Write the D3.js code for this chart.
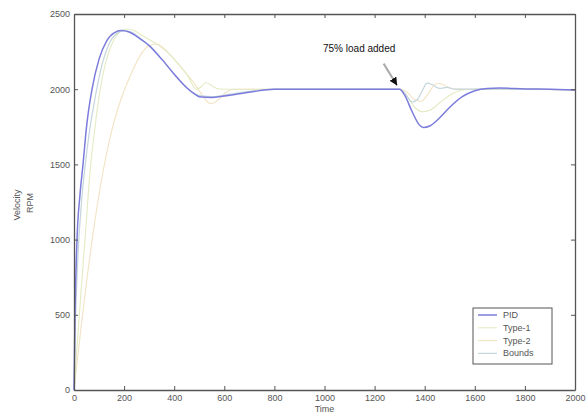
<!DOCTYPE html>
<html lang="en">
<head>
  <meta charset="UTF-8">
  <script src="https://cdn.jsdelivr.net/npm/d3@7"></script>
  <title>Velocity response</title>
  <style>
    body { margin: 0; background: #fff; }
    text { font-family: "Liberation Sans", Arial, sans-serif; }
  </style>
</head>
<body>
<div id="chart"></div>
<script>
// time axis ticks / value ticks
var xTicks = [0, 200, 400, 600, 800, 1000, 1200, 1400, 1600, 1800, 2000];
var yTicks = [0, 500, 1000, 1500, 2000, 2500];

// PID
var pidT = [0, 4, 12, 24, 36, 50, 72, 100, 130, 160, 190, 220, 260, 300, 350, 400, 450, 480, 500, 550, 600, 700, 800, 900, 1000, 1100, 1200, 1300, 1320, 1350, 1380, 1395, 1420, 1460, 1500, 1550, 1600, 1650, 1700, 1800, 1900, 2000];
var pidV = [0, 500, 1000, 1300, 1500, 1750, 2000, 2200, 2320, 2375, 2390, 2380, 2340, 2290, 2200, 2100, 2010, 1970, 1950, 1945, 1955, 1980, 2000, 2000, 2000, 2000, 2000, 2000, 1960, 1850, 1760, 1745, 1755, 1810, 1880, 1950, 1990, 2005, 2008, 2002, 2000, 1995];

// Type-1
var t1T = [0, 15, 30, 44, 64, 84, 104, 130, 160, 190, 210, 240, 270, 300, 340, 370, 410, 450, 490, 510, 525, 545, 570, 600, 700, 800, 1000, 1200, 1300, 1330, 1360, 1390, 1420, 1460, 1500, 1550, 1600, 1800, 2000];
var t1V = [0, 350, 700, 1000, 1450, 1750, 1990, 2200, 2330, 2390, 2400, 2390, 2360, 2330, 2290, 2250, 2180, 2100, 2000, 2020, 2045, 2030, 2005, 2000, 2000, 2000, 2000, 2000, 2000, 1950, 1880, 1850, 1860, 1910, 1960, 1995, 2000, 2000, 1995];

// Type-2
var t2T = [0, 25, 50, 75, 100, 125, 150, 175, 200, 230, 263, 300, 330, 360, 400, 440, 475, 500, 525, 545, 570, 600, 640, 700, 800, 1000, 1200, 1300, 1330, 1360, 1385, 1410, 1440, 1460, 1490, 1520, 1600, 1800, 2000];
var t2V = [0, 370, 720, 1030, 1300, 1530, 1720, 1870, 1990, 2110, 2220, 2290, 2300, 2270, 2200, 2120, 2050, 1990, 1930, 1905, 1920, 1970, 2000, 2000, 2000, 2000, 2000, 2000, 1980, 1930, 1920, 1960, 2030, 2040, 2015, 2000, 2000, 2000, 1995];

// Bounds
var bT = [0, 6, 16, 30, 45, 60, 85, 110, 140, 170, 200, 230, 270, 300, 350, 400, 450, 480, 510, 550, 600, 700, 800, 1000, 1200, 1300, 1320, 1350, 1370, 1390, 1410, 1430, 1460, 1490, 1520, 1560, 1600, 1800, 2000];
var bV = [0, 450, 900, 1250, 1500, 1700, 1950, 2150, 2300, 2370, 2390, 2380, 2330, 2290, 2200, 2100, 2010, 1970, 1955, 1950, 1960, 1985, 2000, 2000, 2000, 2000, 1975, 1915, 1930, 1990, 2040, 2030, 2005, 2012, 2000, 2000, 2000, 2000, 1995];

var seriesNames = ["PID", "Type-1", "Type-2", "Bounds"];
var seriesColors = ["#7c7cdc", "#e3ebc2", "#f2e3c4", "#c4d6dc"];
var seriesWidths = [1.5, 1.1, 1.1, 1.2];

var W = 587, H = 416;
var margin = {left: 74, right: 12, top: 14, bottom: 26};

var x = d3.scaleLinear().domain([0, 2000]).range([margin.left, W - margin.right]);
var y = d3.scaleLinear().domain([0, 2500]).range([H - margin.bottom, margin.top]);

var svg = d3.select("#chart").append("svg")
    .attr("width", W)
    .attr("height", H);

var line = d3.line()
    .x(d => x(d[0]))
    .y(d => y(d[1]))
    .curve(d3.curveMonotoneX);

var zip = (ts, vs) => ts.map((t, i) => [t, vs[i]]);
var data = [zip(pidT, pidV), zip(t1T, t1V), zip(t2T, t2V), zip(bT, bV)];

// draw light series first, PID on top
[2, 1, 3, 0].forEach(i => {
    svg.append("path")
        .attr("d", line(data[i]))
        .attr("fill", "none")
        .attr("stroke", seriesColors[i])
        .attr("stroke-width", seriesWidths[i]);
});

// axes, matlab style: ticks inside, mirrored
var tickLen = 4;
var axisColor = "#555";
var fmt = d3.format("d");
var gx = svg.append("g")
    .attr("transform", "translate(0," + y(0) + ")")
    .call(d3.axisBottom(x).tickValues(xTicks).tickFormat(fmt).tickSizeInner(-tickLen).tickSizeOuter(0).tickPadding(5));
var gxTop = svg.append("g")
    .attr("transform", "translate(0," + y(2500) + ")")
    .call(d3.axisTop(x).tickValues(xTicks).tickSizeInner(-tickLen).tickSizeOuter(0).tickFormat(""));
var gy = svg.append("g")
    .attr("transform", "translate(" + x(0) + ",0)")
    .call(d3.axisLeft(y).tickValues(yTicks).tickFormat(fmt).tickSizeInner(-tickLen).tickSizeOuter(0).tickPadding(4));
var gyRight = svg.append("g")
    .attr("transform", "translate(" + x(2000) + ",0)")
    .call(d3.axisRight(y).tickValues(yTicks).tickSizeInner(-tickLen).tickSizeOuter(0).tickFormat(""));

[gx, gxTop, gy, gyRight].forEach(g => {
    g.selectAll("path").attr("stroke", axisColor).attr("stroke-width", 1.3);
    g.selectAll("line").attr("stroke", axisColor);
    g.selectAll("text").attr("font-size", 9).attr("fill", "#555")
        .attr("font-family", "'Liberation Sans', Arial, sans-serif");
});

// axis labels
svg.append("text")
    .attr("x", x(1000))
    .attr("y", 412)
    .attr("text-anchor", "middle")
    .attr("font-size", 9)
    .attr("fill", "#555")
    .text("Time");

svg.append("text")
    .attr("transform", "translate(20,205) rotate(-90)")
    .attr("text-anchor", "middle")
    .attr("font-size", 9)
    .attr("fill", "#555")
    .text("Velocity");
svg.append("text")
    .attr("transform", "translate(33,203) rotate(-90)")
    .attr("text-anchor", "middle")
    .attr("font-size", 9)
    .attr("fill", "#555")
    .text("RPM");

// annotation
var defs = svg.append("defs");
defs.append("marker")
    .attr("id", "arrow")
    .attr("markerUnits", "userSpaceOnUse")
    .attr("markerWidth", 8)
    .attr("markerHeight", 8)
    .attr("viewBox", "0 0 8 8")
    .attr("refX", 8)
    .attr("refY", 4)
    .attr("orient", "auto")
    .append("path")
    .attr("d", "M0,0 L8,4 L0,8 Z")
    .attr("fill", "#111");

svg.append("line")
    .attr("x1", x(1236)).attr("y1", y(2170))
    .attr("x2", x(1290)).attr("y2", y(2025))
    .attr("stroke", "#aaa")
    .attr("stroke-width", 2)
    .attr("marker-end", "url(#arrow)");

svg.append("text")
    .attr("x", 323)
    .attr("y", 52)
    .attr("font-size", 10)
    .attr("fill", "#111")
    .text("75% load added");

// legend
var lg = svg.append("g");
lg.append("rect")
    .attr("x", 473).attr("y", 308)
    .attr("width", 79).attr("height", 56)
    .attr("fill", "#fff")
    .attr("stroke", "#555")
    .attr("stroke-width", 1);
seriesNames.forEach((name, i) => {
    var ly = 315 + i * 12.8;
    lg.append("line")
        .attr("x1", 478).attr("x2", 497)
        .attr("y1", ly).attr("y2", ly)
        .attr("stroke", seriesColors[i])
        .attr("stroke-width", seriesWidths[i]);
    lg.append("text")
        .attr("x", 503).attr("y", ly + 3)
        .attr("font-size", 9)
        .attr("fill", "#555")
        .text(name);
});
</script>
</body>
</html>
